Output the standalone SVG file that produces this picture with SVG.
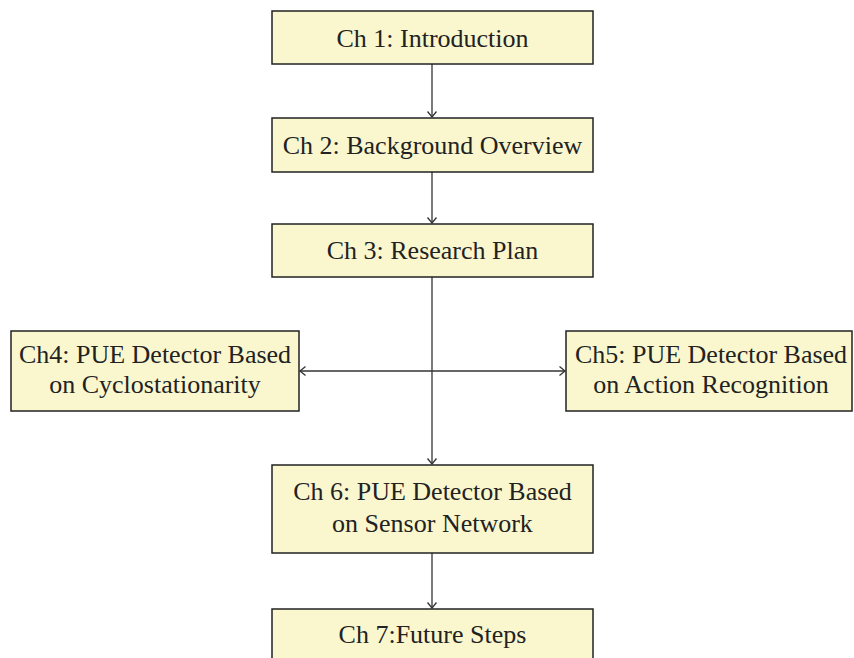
<svg xmlns="http://www.w3.org/2000/svg" width="854" height="658" viewBox="0 0 854 658">
<defs>
<style>
.box{fill:#FAF7CF;stroke:#222;stroke-width:1.5}
.t{font-family:"Liberation Serif","Times New Roman",serif;font-size:26px;fill:#222;text-anchor:middle}
.c{stroke:#333;stroke-width:1.3;fill:none}
</style>
<marker id="ah" markerUnits="userSpaceOnUse" markerWidth="14" markerHeight="14" viewBox="-7 -7 14 14" refX="0" refY="0" orient="auto-start-reverse">
<path d="M-5.5,-4.5 L0,0 L-5.5,4.5" fill="none" stroke="#333" stroke-width="1.3"/>
</marker>
</defs>
<rect width="854" height="658" fill="#fff"/>
<g id="connectors">
<line class="c" x1="432" y1="64" x2="432" y2="117" marker-end="url(#ah)"/>
<line class="c" x1="432" y1="172" x2="432" y2="223" marker-end="url(#ah)"/>
<line class="c" x1="432" y1="277" x2="432" y2="464" marker-end="url(#ah)"/>
<line class="c" x1="300" y1="371" x2="565" y2="371" marker-start="url(#ah)" marker-end="url(#ah)"/>
<line class="c" x1="432" y1="553" x2="432" y2="608" marker-end="url(#ah)"/>
</g>
<g id="ch1">
<rect class="box" x="272" y="11" width="321" height="53"/>
<text class="t" x="432.5" y="47">Ch 1: Introduction</text>
</g>
<g id="ch2">
<rect class="box" x="272" y="118" width="321" height="54"/>
<text class="t" x="432.5" y="154">Ch 2: Background Overview</text>
</g>
<g id="ch3">
<rect class="box" x="272" y="224" width="321" height="53"/>
<text class="t" x="432.5" y="259">Ch 3: Research Plan</text>
</g>
<g id="ch4">
<rect class="box" x="11" y="331" width="288" height="80"/>
<text class="t" x="155" y="363">Ch4: PUE Detector Based</text>
<text class="t" x="155" y="393">on Cyclostationarity</text>
</g>
<g id="ch5">
<rect class="box" x="566" y="331" width="286" height="80"/>
<text class="t" x="711" y="363">Ch5: PUE Detector Based</text>
<text class="t" x="711" y="393">on Action Recognition</text>
</g>
<g id="ch6">
<rect class="box" x="272" y="465" width="321" height="88"/>
<text class="t" x="432.5" y="500">Ch 6: PUE Detector Based</text>
<text class="t" x="432.5" y="532">on Sensor Network</text>
</g>
<g id="ch7">
<rect class="box" x="272" y="609" width="321" height="60"/>
<text class="t" x="432.5" y="643">Ch 7:Future Steps</text>
</g>
</svg>
